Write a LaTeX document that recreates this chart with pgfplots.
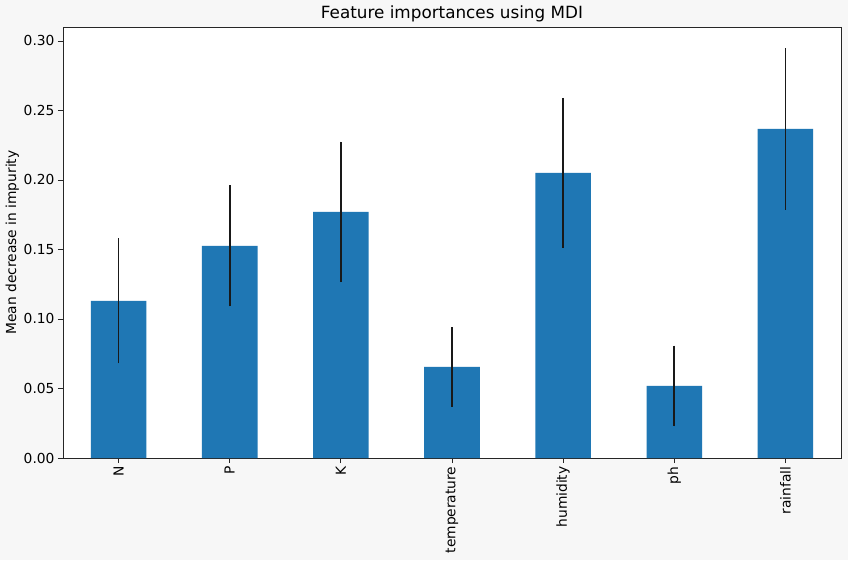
\documentclass[border=0pt]{standalone}
\usepackage{pgfplots}
\pgfplotsset{compat=1.18}
\usepackage{fontspec}
\setmainfont{DejaVu Sans}
\definecolor{bar}{HTML}{1F77B4}
\definecolor{figbg}{HTML}{F7F7F7}
\begin{document}
\begin{tikzpicture}
\fill[figbg] (-63pt,-102pt) rectangle (785pt,458pt);
\begin{axis}[
  at={(0pt,0pt)}, anchor=south west,
  scale only axis, width=778pt, height=431pt,
  xmin=-0.5, xmax=6.5, ymin=0, ymax=0.31,
  axis background/.style={fill=white},
  axis line style={black!85, line width=0.8pt},
  xtick={0,1,2,3,4,5,6},
  xticklabels={N,P,K,temperature,humidity,ph,rainfall},
  xticklabel style={rotate=90, anchor=east, font=\fontsize{13.8}{15}\selectfont},
  ytick={0,0.05,0.1,0.15,0.2,0.25,0.3},
  yticklabels={0.00,0.05,0.10,0.15,0.20,0.25,0.30},
  yticklabel style={font=\fontsize{13.8}{15}\selectfont},
  tick align=outside, tick pos=left,
  major tick length=5pt,
  tick style={black!85, line width=0.8pt},
  ylabel={Mean decrease in impurity},
  ylabel style={font=\fontsize{13.8}{15}\selectfont, yshift=-2pt},
  title={Feature importances using MDI},
  title style={font=\fontsize{16.8}{19}\selectfont, yshift=-5pt},
]
\addplot[ybar, bar width=0.5, bar shift=0pt, fill=bar, draw=none,
  error bars/.cd, y dir=both, y explicit, error mark=none,
  error bar style={black!90, line width=1.8pt}]
  table[x=x, y=y, y error=e] {
x y e
0 0.113 0.045
1 0.1525 0.0435
2 0.177 0.0505
3 0.0655 0.0285
4 0.205 0.054
5 0.0518 0.029
6 0.2367 0.058
};
\end{axis}
\pgfresetboundingbox
\path (-63pt,-102pt) rectangle (785pt,458pt);
\end{tikzpicture}
\end{document}
